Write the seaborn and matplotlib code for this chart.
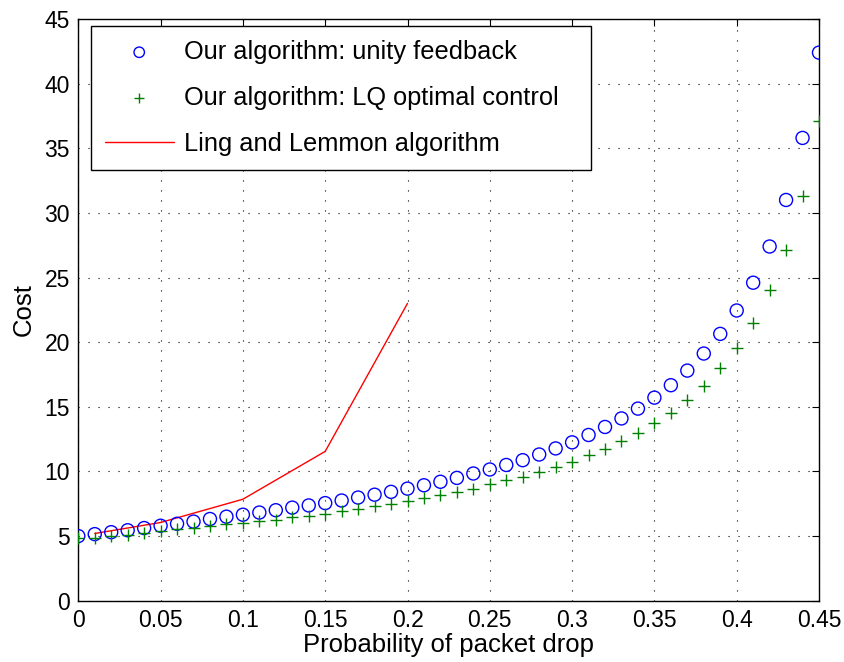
import numpy as np
import pandas as pd
import matplotlib
matplotlib.use("Agg")
import matplotlib.pyplot as plt
import seaborn as sns

# ---- data ----
drop_prob = [0.00, 0.01, 0.02, 0.03, 0.04, 0.05, 0.06, 0.07, 0.08, 0.09,
             0.10, 0.11, 0.12, 0.13, 0.14, 0.15, 0.16, 0.17, 0.18, 0.19,
             0.20, 0.21, 0.22, 0.23, 0.24, 0.25, 0.26, 0.27, 0.28, 0.29,
             0.30, 0.31, 0.32, 0.33, 0.34, 0.35, 0.36, 0.37, 0.38, 0.39,
             0.40, 0.41, 0.42, 0.43, 0.44, 0.45]
unity_cost = [5.0, 5.15, 5.3, 5.45, 5.62, 5.8, 5.95, 6.12, 6.32, 6.5,
              6.65, 6.82, 7.0, 7.2, 7.37, 7.55, 7.75, 7.98, 8.2, 8.42,
              8.67, 8.93, 9.2, 9.5, 9.84, 10.15, 10.5, 10.87, 11.31, 11.78,
              12.25, 12.82, 13.44, 14.1, 14.86, 15.71, 16.67, 17.8, 19.12, 20.64,
              22.45, 24.6, 27.4, 31.0, 35.8, 42.4]
lq_cost = [4.88, 4.85, 4.97, 5.1, 5.25, 5.42, 5.54, 5.64, 5.79, 5.9,
           6.03, 6.15, 6.28, 6.44, 6.59, 6.74, 6.92, 7.1, 7.3, 7.5,
           7.75, 7.97, 8.18, 8.41, 8.66, 9.0, 9.3, 9.56, 9.95, 10.33,
           10.74, 11.25, 11.74, 12.33, 12.98, 13.72, 14.52, 15.54, 16.64, 18.02,
           19.55, 21.5, 24.0, 27.1, 31.3, 37.1]
ling_prob = [0.01, 0.05, 0.10, 0.15, 0.20]
ling_cost = [5.2, 6.05, 7.85, 11.55, 23.0]

x_ticks = [0, 0.05, 0.1, 0.15, 0.2, 0.25, 0.3, 0.35, 0.4, 0.45]
x_tick_labels = ["0", "0.05", "0.1", "0.15", "0.2", "0.25", "0.3", "0.35", "0.4", "0.45"]
y_ticks = [0, 5, 10, 15, 20, 25, 30, 35, 40, 45]

labels = ["Our algorithm: unity feedback",
          "Our algorithm: LQ optimal control",
          "Ling and Lemmon algorithm"]

sns.set_style("white")
plt.rcParams["font.family"] = ["Liberation Sans", "DejaVu Sans"]
plt.rcParams["text.color"] = "black"
plt.rcParams["axes.labelcolor"] = "black"
plt.rcParams["xtick.color"] = "black"
plt.rcParams["ytick.color"] = "black"

fig = plt.figure(figsize=(8.44, 6.62), dpi=100)
ax = fig.add_axes([78.3 / 844, 1 - 600.7 / 662, (819 - 78.3) / 844, (600.7 - 19) / 662])

df_u = pd.DataFrame({"p": drop_prob, "c": unity_cost})
df_l = pd.DataFrame({"p": drop_prob, "c": lq_cost})
df_r = pd.DataFrame({"p": ling_prob, "c": ling_cost})

sns.scatterplot(data=df_u, x="p", y="c", ax=ax, marker="o", s=88,
                facecolors="none", edgecolor=(0, 0, 1), linewidth=1.0,
                label=labels[0], zorder=3)
sns.scatterplot(data=df_l, x="p", y="c", ax=ax, marker="+", s=80,
                color=(0, 0.5, 0), linewidth=1.0, label=labels[1], zorder=3)
sns.lineplot(data=df_r, x="p", y="c", ax=ax, color=(1, 0, 0), linewidth=1.0,
             label=labels[2], zorder=2)

ax.set_xlim(0, 0.45)
ax.set_ylim(0, 45)
ax.set_xticks(x_ticks)
ax.set_xticklabels(x_tick_labels)
ax.set_yticks(y_ticks)
ax.tick_params(direction="in", length=5, width=0.8, labelsize=16.5,
               top=True, right=True, pad=6)
ax.grid(True, color="black", linestyle=(0, (1, 8)), linewidth=0.8)
for s in ax.spines.values():
    s.set_color("black")
    s.set_linewidth(1.0)
ax.set_xlabel("Probability of packet drop", fontsize=18.5, labelpad=1)
ax.set_ylabel("Cost", fontsize=18.5, labelpad=6)

leg = ax.legend(loc="upper left", bbox_to_anchor=(0.0167, 0.8885, 0.675, 0.1),
                mode="expand", fontsize=18.3,
                frameon=True, fancybox=False, edgecolor="black", framealpha=1,
                handlelength=2.7, borderpad=0.56, labelspacing=0.86,
                handletextpad=0.42, borderaxespad=0, markerscale=0.8)
leg.get_frame().set_linewidth(1.0)

fig.savefig("out.png", dpi=100)
